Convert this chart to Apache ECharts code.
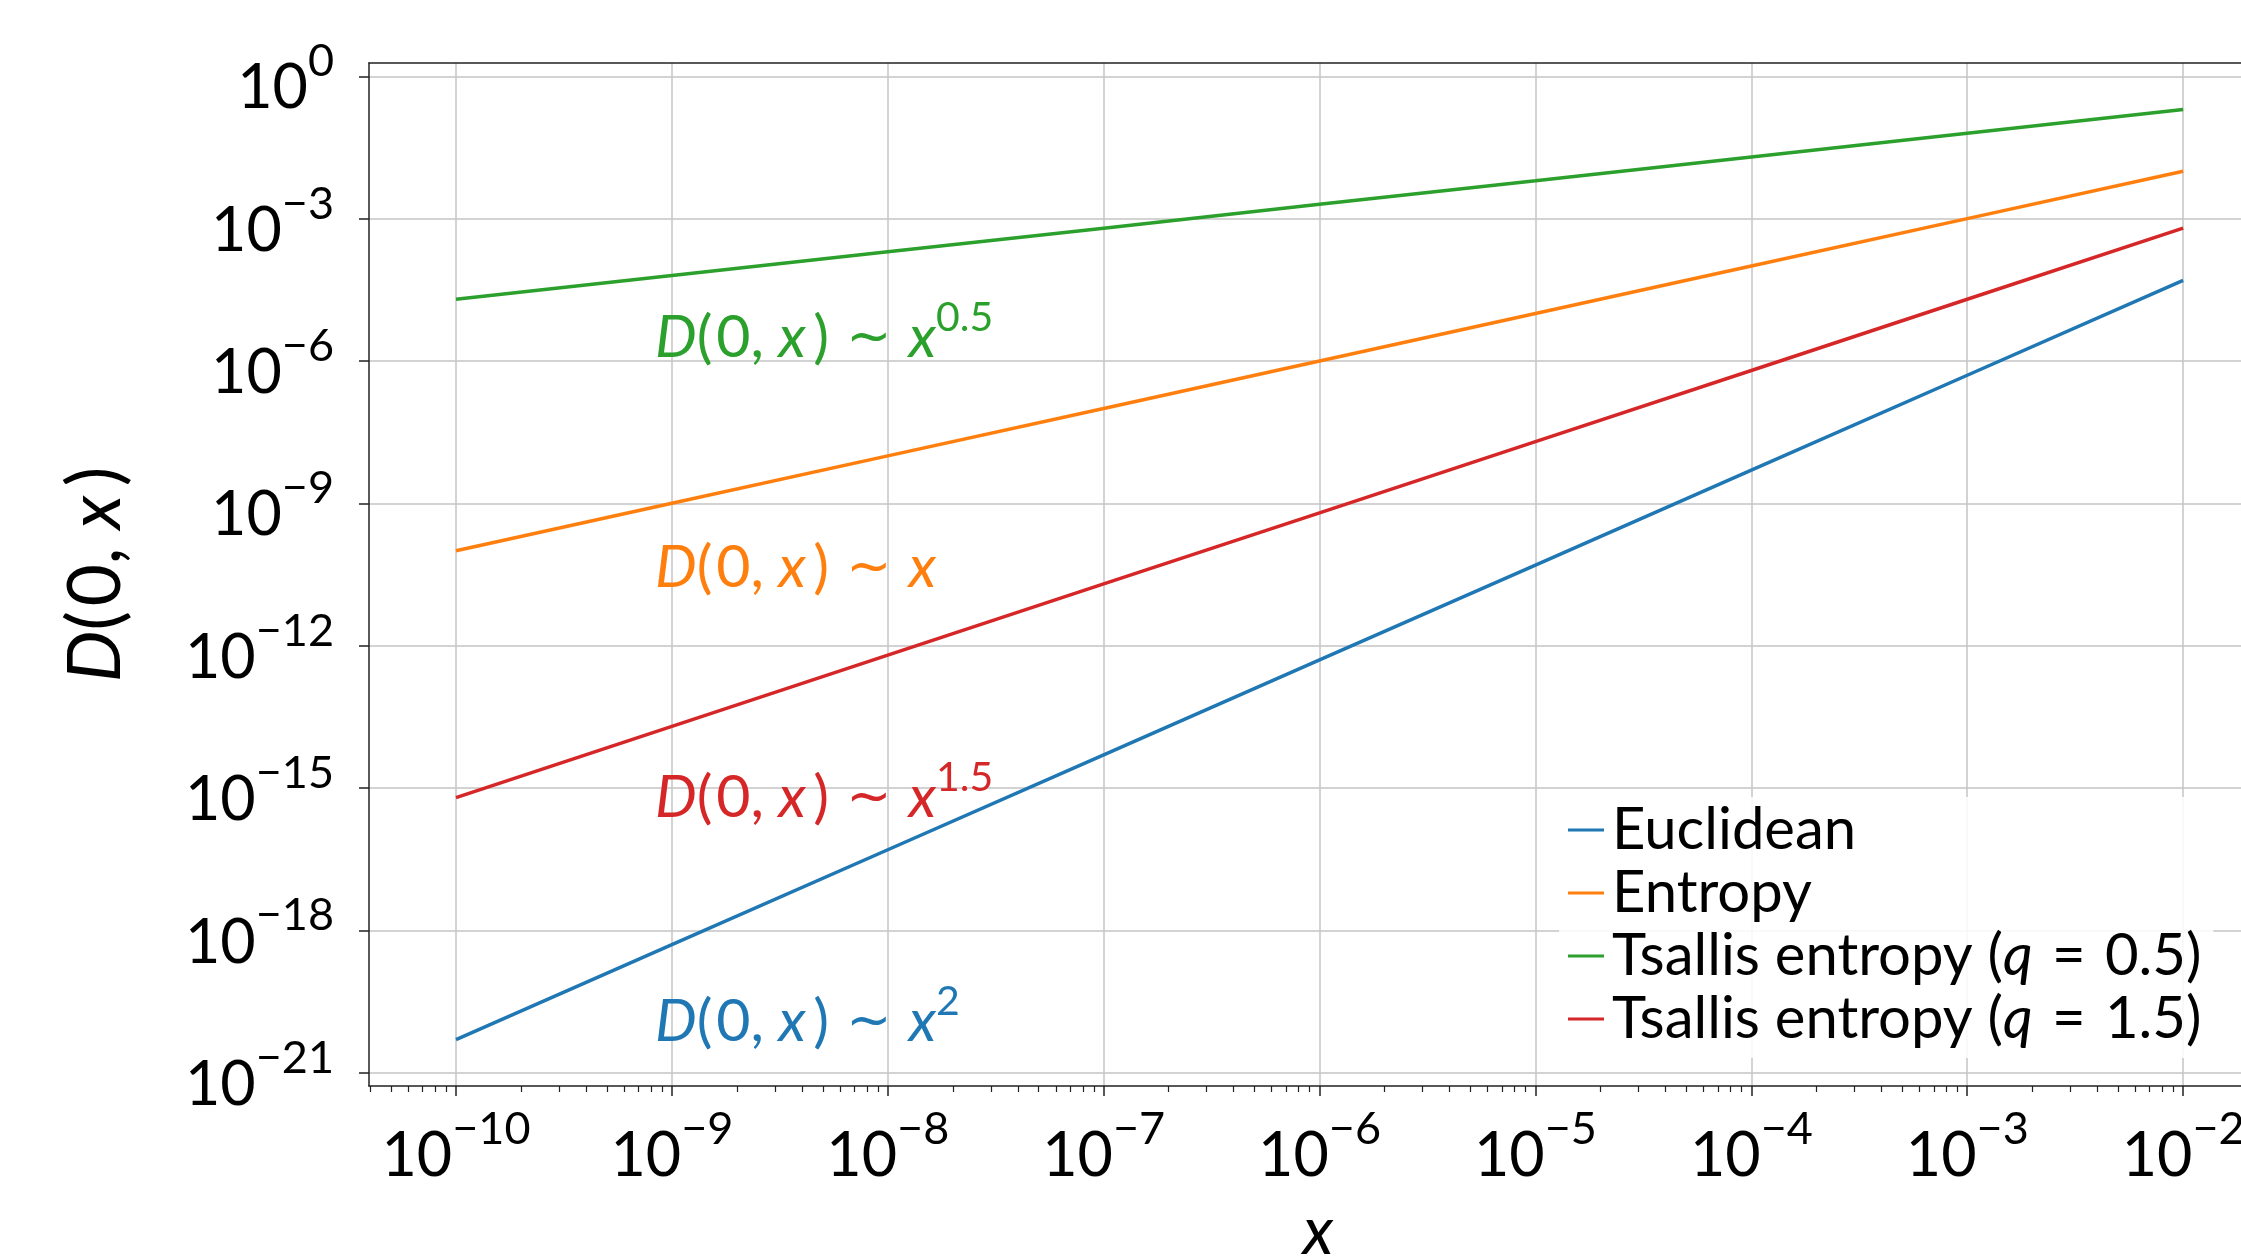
<!DOCTYPE html>
<html><head><meta charset="utf-8">
<script src="https://cdn.jsdelivr.net/npm/echarts@6/dist/echarts.min.js"></script>
<style>html,body{margin:0;padding:0;background:#fff;overflow:hidden}#c{width:2241px;height:1260px}</style>
</head><body><div id="c"></div>
<script>
// ---- data ----
const xValues   = [1e-10, 1e-9, 1e-8, 1e-7, 1e-6, 1e-5, 1e-4, 1e-3, 1e-2];
const euclidean = [5e-21, 5e-19, 5e-17, 5e-15, 5e-13, 5e-11, 5e-9, 5e-7, 5e-5];
const entropy   = [1e-10, 1e-9, 1e-8, 1e-7, 1e-6, 1e-5, 1e-4, 1e-3, 1e-2];
const tsallis05 = [2e-5, 6.3e-5, 2e-4, 6.3e-4, 2e-3, 6.3e-3, 2e-2, 6.3e-2, 0.2];
const tsallis15 = [6.3e-16, 2e-14, 6.3e-13, 2e-11, 6.3e-10, 2e-8, 6.3e-7, 2e-5, 6.3e-4];
const seriesNames = ['Euclidean', 'Entropy', 'Tsallis entropy (q = 0.5)', 'Tsallis entropy (q = 1.5)'];
const xTickValues = [1e-10, 1e-9, 1e-8, 1e-7, 1e-6, 1e-5, 1e-4, 1e-3, 1e-2];
const yTickValues = [1e-21, 1e-18, 1e-15, 1e-12, 1e-9, 1e-6, 1e-3, 1];
const minorMantissas = [2, 3, 4, 5, 6, 7, 8, 9];
const minorDecades = [1e-11, 1e-10, 1e-9, 1e-8, 1e-7, 1e-6, 1e-5, 1e-4, 1e-3, 1e-2];
// annotation exponent per series (same order as seriesNames)
const annotationExponents = ['2', '', '0.5', '1.5'];

const colors = ['#1f77b4', '#ff7f0e', '#2ca02c', '#d62728'];
const seriesData = [euclidean, entropy, tsallis05, tsallis15];

// axis extents: the figure is cropped at the right edge of the canvas
const xMin = Math.pow(10, -10.403), xMax = Math.pow(10, -1.732);
const yMin = Math.pow(10, -21.28), yMax = Math.pow(10, 0.28);

const xMinor = [];
minorDecades.forEach(d => minorMantissas.forEach(m => { const v = m * d; if (v >= xMin && v <= xMax) xMinor.push(v); }));

function expLabel(v) {
  const e = Math.round(Math.log10(v));
  return '{b|10}{s|' + (e < 0 ? '\u2212' + (-e) : String(e)) + '}';
}
const FONT = 'Lato, "DejaVu Sans", sans-serif';
const tickRich = {
  b: { fontSize: 61, fontFamily: FONT, color: '#000', lineHeight: 80, verticalAlign: 'bottom' },
  s: { fontSize: 45, fontFamily: FONT, color: '#000', lineHeight: 44, verticalAlign: 'top' }
};

const chart = echarts.init(document.getElementById('c'), null, { renderer: 'canvas' });

const series = seriesNames.map((n, i) => ({
  name: n, type: 'line', xAxisIndex: 0, yAxisIndex: 0,
  showSymbol: false, symbol: 'none', silent: true,
  data: xValues.map((x, k) => [x, seriesData[i][k]]),
  lineStyle: { color: colors[i], width: 3.5 }, itemStyle: { color: colors[i] },
  z: 3
}));

function legendFmt(name) {
  const m = name.match(/^(.*)\(q = (.*)\)$/);
  if (m) return '{n|' + m[1] + '(}{i|q}{n|\u2004=\u2004' + m[2] + ')}';
  return '{n|' + name + '}';
}

const annText = (i) => {
  let t = '{i|D}{n|(\u200a0,\u2005}{i|x}{n|\u2009)}{sym| \u223C }{i|x}';
  if (annotationExponents[i]) t += '{s|' + annotationExponents[i] + '}';
  return t;
};
const annY = [1016, 562, 332, 792];
const graphics = [0, 1, 2, 3].map(i => ({
  type: 'text', x: 655, y: annY[i], z: 10, silent: true,
  style: {
    text: annText(i), fill: colors[i], textVerticalAlign: 'middle', textAlign: 'left',
    rich: {
      i: { fontSize: 59, fontFamily: FONT, fontStyle: 'italic', fill: colors[i], color: colors[i], lineHeight: 70, verticalAlign: 'bottom' },
      n: { fontSize: 59, fontFamily: FONT, fill: colors[i], color: colors[i], lineHeight: 70, verticalAlign: 'bottom' },
      sym: { fontSize: 54, fontFamily: '"DejaVu Sans", sans-serif', fill: colors[i], color: colors[i], lineHeight: 70, verticalAlign: 'bottom' },
      s: { fontSize: 41, fontFamily: FONT, fill: colors[i], color: colors[i], lineHeight: 40, verticalAlign: 'top' }
    }
  }
}));

const spine = { show: true, lineStyle: { color: '#222', width: 1.5 } };

const option = {
  animation: false,
  backgroundColor: '#fff',
  grid: { left: 369, top: 63, right: 0, height: 1023, show: false, containLabel: false, outerBoundsMode: 'none' },
  xAxis: [
    {
      type: 'log', logBase: 10, min: xMin, max: xMax, position: 'bottom',
      name: '{i|x}', nameLocation: 'middle', nameGap: 114,
      nameTextStyle: { padding: [0, 0, 0, 26], rich: { i: { fontSize: 66, fontFamily: FONT, fontStyle: 'italic', color: '#000' } } },
      axisLine: spine,
      axisTick: { show: true, length: 10, lineStyle: { color: '#222', width: 1.5 }, customValues: xTickValues },
      axisLabel: { show: true, margin: 21, customValues: xTickValues, formatter: expLabel, rich: tickRich, showMinLabel: true, showMaxLabel: true, hideOverlap: false },
      splitLine: { show: true, lineStyle: { color: '#c4c4c4', width: 1.5 } },
      minorTick: { show: false }, minorSplitLine: { show: false }
    },
    {
      type: 'log', logBase: 10, min: xMin, max: xMax, position: 'bottom', gridIndex: 0,
      axisLine: { show: false },
      axisTick: { show: true, length: 6, lineStyle: { color: '#222', width: 1.2 }, customValues: xMinor },
      axisLabel: { show: false },
      splitLine: { show: false }
    },
    {
      type: 'log', logBase: 10, min: xMin, max: xMax, position: 'top', gridIndex: 0,
      axisLine: spine, axisTick: { show: false }, axisLabel: { show: false }, splitLine: { show: false }
    }
  ],
  yAxis: [
    {
      type: 'log', logBase: 10, min: yMin, max: yMax, position: 'left',
      name: '{i|D}{n|(\u200a0,\u2005}{i|x}{n|\u2009)}', nameLocation: 'middle', nameGap: 236, nameRotate: 90,
      nameTextStyle: { rich: {
        i: { fontSize: 73, fontFamily: FONT, fontStyle: 'italic', color: '#000' },
        n: { fontSize: 73, fontFamily: FONT, color: '#000' } } },
      axisLine: spine,
      axisTick: { show: true, length: 10, lineStyle: { color: '#222', width: 1.5 }, customValues: yTickValues },
      axisLabel: { show: true, margin: 35, customValues: yTickValues, formatter: expLabel, rich: tickRich, padding: [6, 0, 0, 0], showMinLabel: true, showMaxLabel: true, hideOverlap: false },
      splitLine: { show: true, lineStyle: { color: '#c4c4c4', width: 1.5 } },
      minorTick: { show: false }
    }
  ],
  legend: {
    show: true, orient: 'vertical', left: 1559, top: 797,
    padding: [3, 12, 9, 9], itemGap: 3, itemWidth: 36, itemHeight: 3, icon: 'rect',
    backgroundColor: 'rgba(255,255,255,0.85)', borderWidth: 0,
    data: seriesNames, selectedMode: false,
    formatter: legendFmt,
    textStyle: { fontFamily: FONT, fontSize: 58, color: '#000', lineHeight: 60, padding: [0, 0, 0, 3],
      rich: {
        n: { fontFamily: FONT, fontSize: 58, color: '#000', lineHeight: 60 },
        i: { fontFamily: FONT, fontSize: 58, fontStyle: 'italic', color: '#000', lineHeight: 60 }
      } }
  },
  series: series,
  graphic: graphics
};
chart.setOption(option);
</script></body></html>
